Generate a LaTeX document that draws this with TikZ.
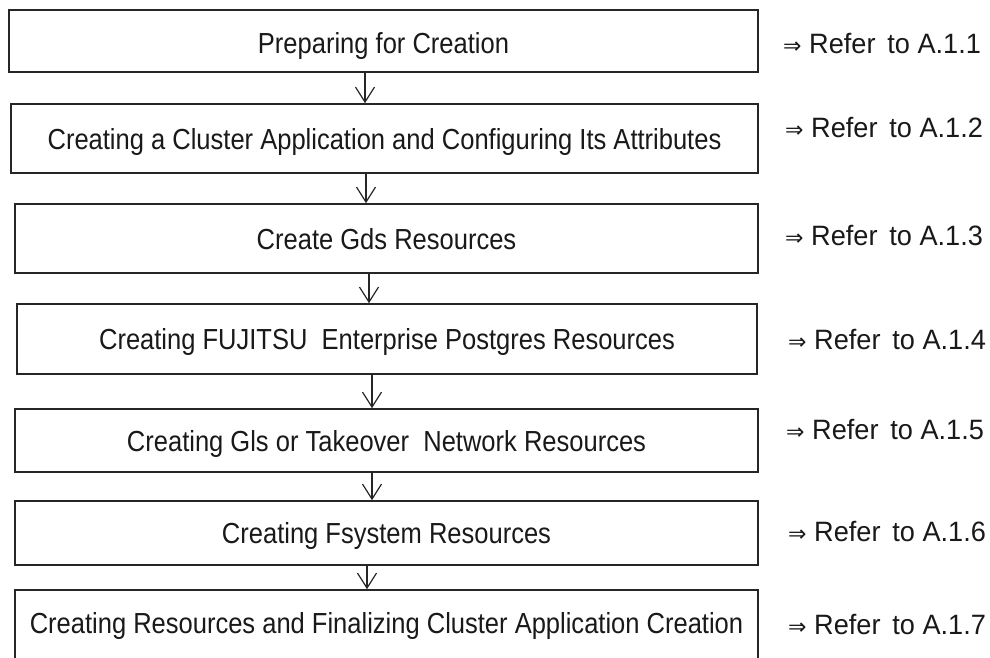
\documentclass[tikz,border=0pt]{standalone}
\usepackage{fontspec}
\setmainfont{Liberation Sans}[FakeStretch=0.88]
\newfontfamily\labelfont{Liberation Sans}[FakeStretch=0.97]
\newfontfamily\symfont{DejaVu Sans}
\usetikzlibrary{arrows.meta}
\tikzset{
  stepbox/.style={draw=black!85, line width=1.6pt, fill=white, minimum width=748pt, inner sep=0pt,
    font=\fontsize{29}{33}\selectfont, text=black!90, text height=21pt, text depth=0pt},
  flowarrow/.style={draw=black!85, line width=1.4pt,
    -{Straight Barb[length=15pt, width=19pt, line width=1.2pt]}},
  reflabel/.style={anchor=west, inner sep=0pt, font=\labelfont\fontsize{28}{32}\selectfont, text=black!90}
}
\newcommand{\rarr}{{\symfont\fontsize{22}{26}\selectfont ⇒}}
\newcommand{\gap}{\hspace{0.42em}}
\begin{document}
\begin{tikzpicture}[x=1pt,y=-1pt]
\useasboundingbox (0,0) rectangle (990,658);
\node[stepbox, minimum width=749pt, minimum height=62pt] (b1) at (383.5,41) {\raisebox{-2pt}{Preparing for Creation}};
\node[stepbox, minimum width=747pt, minimum height=69pt] (b2) at (384.5,138.5) {\raisebox{-1pt}{Creating a Cluster Application and Configuring Its Attributes}};
\node[stepbox, minimum width=743pt, minimum height=69pt] (b3) at (386.5,238.5) {Create Gds Resources};
\node[stepbox, minimum width=740pt, minimum height=70pt] (b4) at (387,339) {Creating FUJITSU\ \ Enterprise Postgres Resources};
\node[stepbox, minimum width=743pt, minimum height=63pt] (b5) at (386.5,440.5) {Creating Gls or Takeover\ \ Network Resources};
\node[stepbox, minimum width=743pt, minimum height=64pt] (b6) at (386.5,533) {Creating Fsystem Resources};
\node[stepbox, minimum width=743pt, minimum height=76pt] (b7) at (386.5,628) {\raisebox{5pt}{Creating Resources and Finalizing Cluster Application Creation}};

\coordinate (a1) at (365,0);
\coordinate (a2) at (366,0);
\coordinate (a3) at (369,0);
\coordinate (a4) at (372,0);
\coordinate (a5) at (372,0);
\coordinate (a6) at (367,0);
\draw[flowarrow] (b1.south -| a1) -- (b2.north -| a1);
\draw[flowarrow] (b2.south -| a2) -- (b3.north -| a2);
\draw[flowarrow] (b3.south -| a3) -- (b4.north -| a3);
\draw[flowarrow] (b4.south -| a4) -- (b5.north -| a4);
\draw[flowarrow] (b5.south -| a5) -- (b6.north -| a5);
\draw[flowarrow] (b6.south -| a6) -- (b7.north -| a6);

\node[reflabel] (r1) at (783,44) {\rarr\ Refer\gap to A.1.1};
\node[reflabel] (r2) at (785,128) {\rarr\ Refer\gap to A.1.2};
\node[reflabel] (r3) at (785,236) {\rarr\ Refer\gap to A.1.3};
\node[reflabel] (r4) at (788,340) {\rarr\ Refer\gap to A.1.4};
\node[reflabel] (r5) at (786,430) {\rarr\ Refer\gap to A.1.5};
\node[reflabel] (r6) at (788,532) {\rarr\ Refer\gap to A.1.6};
\node[reflabel] (r7) at (788,624) {\rarr\ Refer\gap to A.1.7};
\end{tikzpicture}
\end{document}
